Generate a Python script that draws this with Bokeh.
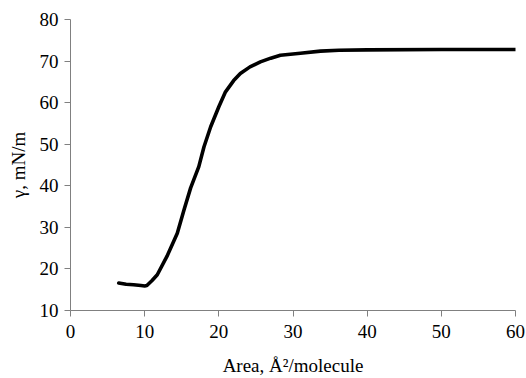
from bokeh.plotting import figure
from bokeh.models import Range1d, FixedTicker
from bokeh.embed import file_html
from bokeh.resources import INLINE

area = [6.5, 7.5, 8.5, 9.5, 10.0, 10.3, 11.0, 11.7, 13.0, 14.4, 15.3, 16.2, 17.3, 18.0, 18.9,
        20.0, 20.9, 22.0, 22.9, 24.2, 25.6, 27.0, 28.3, 31.0, 33.7, 36.2, 40.0, 50.0, 60.0]
gamma = [16.6, 16.3, 16.2, 16.0, 15.9, 16.0, 17.2, 18.6, 23.0, 28.6, 34.2, 39.5, 44.6, 49.4, 54.2,
         59.0, 62.6, 65.3, 67.0, 68.6, 69.8, 70.7, 71.4, 71.9, 72.4, 72.6, 72.7, 72.8, 72.8]
x_ticks = [0, 10, 20, 30, 40, 50, 60]
y_ticks = [10, 20, 30, 40, 50, 60, 70, 80]

p = figure(width=526, height=378, output_backend="svg", toolbar_location=None,
           x_range=Range1d(0, 60), y_range=Range1d(10, 80),
           min_border_left=70, min_border_right=11, min_border_top=19, min_border_bottom=67)
p.outline_line_color = None
p.grid.grid_line_color = None
p.background_fill_color = "white"

p.line(area, gamma, line_color="black", line_width=3.6, line_join="round", line_cap="round")

for ax in (p.xaxis[0], p.yaxis[0]):
    ax.axis_line_color = "#808080"
    ax.major_tick_line_color = "#808080"
    ax.major_tick_out = 6
    ax.major_tick_in = 0
    ax.minor_tick_line_color = None
    ax.major_label_text_font = "Liberation Serif"
    ax.major_label_text_font_size = "19px"
    ax.major_label_text_color = "black"
    ax.axis_label_text_font = "Liberation Serif"
    ax.axis_label_text_font_size = "19px"
    ax.axis_label_text_font_style = "normal"
    ax.axis_label_text_color = "black"

p.xaxis[0].ticker = FixedTicker(ticks=x_ticks)
p.yaxis[0].ticker = FixedTicker(ticks=y_ticks)
p.xaxis[0].axis_label = "Area, Å²/molecule"
p.yaxis[0].axis_label = "γ, mN/m"
p.xaxis[0].major_label_standoff = 8
p.yaxis[0].major_label_standoff = 6
p.xaxis[0].axis_label_standoff = 14
p.yaxis[0].axis_label_standoff = 8

open("out.html", "w").write(file_html(p, INLINE))
